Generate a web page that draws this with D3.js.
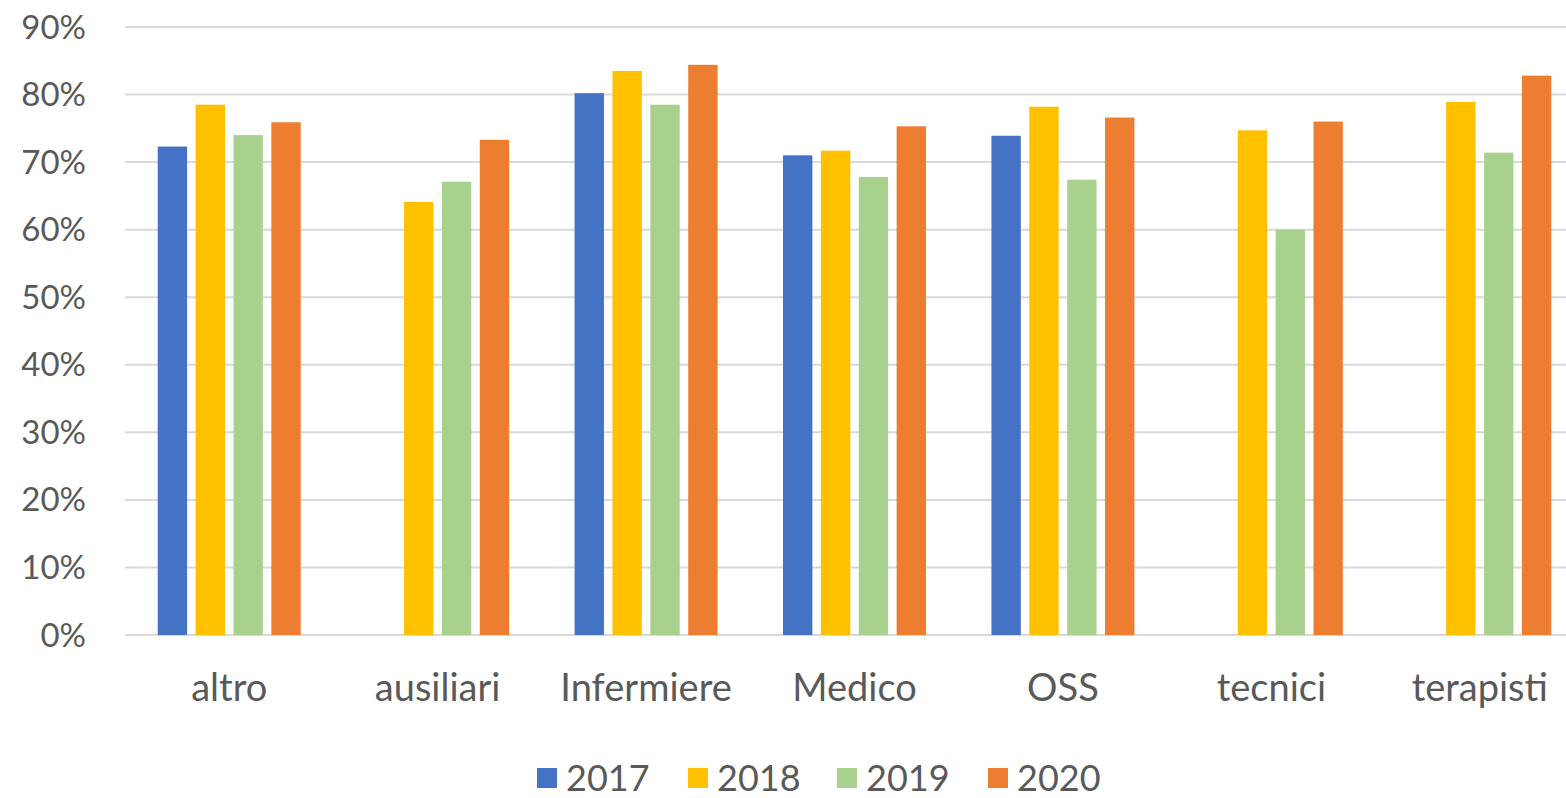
<!DOCTYPE html>
<html lang="it">
<head>
<meta charset="UTF-8">
<title>Grafico a barre</title>
<script src="https://d3js.org/d3.v7.min.js"></script>
<style>
  * { margin: 0; padding: 0; }
  body { background: #fff; }
</style>
</head>
<body>
<div id="chart"></div>
<script>
// categorie e serie
const categories = ["altro", "ausiliari", "Infermiere", "Medico", "OSS", "tecnici", "terapisti"];
const years = ["2017", "2018", "2019", "2020"];
const colors = ["#4472C4", "#FFC000", "#A9D18E", "#ED7D31"];
// valori per anno (null = nessun dato)
const v2017 = [0.723, null, 0.802, 0.710, 0.739, null, null];
const v2018 = [0.785, 0.641, 0.835, 0.717, 0.782, 0.747, 0.789];
const v2019 = [0.740, 0.671, 0.785, 0.678, 0.674, 0.600, 0.714];
const v2020 = [0.759, 0.733, 0.844, 0.753, 0.766, 0.760, 0.828];
const yTicks = [0, 0.1, 0.2, 0.3, 0.4, 0.5, 0.6, 0.7, 0.8, 0.9];

const series = [v2017, v2018, v2019, v2020];
const data = categories.map((c, i) => ({
  cat: c,
  values: years.map((y, k) => ({ year: y, value: series[k][i], k }))
}));

const width = 1566, height = 798;
// l'area del grafico continua oltre il bordo destro
const plotLeft = 125, plotRight = 1584;
const plotTop = 27, plotBottom = 635;
const font = "Lato, 'Open Sans', sans-serif";
const textColor = "#595959";

const svg = d3.select("#chart").append("svg")
  .attr("width", width)
  .attr("height", height)
  .attr("font-family", font);

const x0 = d3.scaleBand()
  .domain(categories)
  .range([plotLeft, plotRight])
  .paddingInner(0.314)
  .paddingOuter(0.157);

const x1 = d3.scaleBand()
  .domain(years)
  .range([0, x0.bandwidth()])
  .paddingInner(0.225);

const y = d3.scaleLinear()
  .domain([0, 0.9])
  .range([plotBottom, plotTop]);

// griglia
svg.append("g")
  .selectAll("line")
  .data(yTicks)
  .join("line")
  .attr("x1", plotLeft)
  .attr("x2", width)
  .attr("y1", d => y(d))
  .attr("y2", d => y(d))
  .attr("stroke", "#d9d9d9")
  .attr("stroke-width", 2);

// etichette asse y
svg.append("g")
  .selectAll("text")
  .data(yTicks)
  .join("text")
  .attr("x", 86)
  .attr("y", d => y(d))
  .attr("dy", "0.35em")
  .attr("text-anchor", "end")
  .attr("font-size", 33)
  .attr("fill", textColor)
  .text(d3.format(".0%"));

// barre
const groups = svg.append("g")
  .selectAll("g")
  .data(data)
  .join("g")
  .attr("transform", d => `translate(${x0(d.cat)},0)`);

groups.selectAll("rect")
  .data(d => d.values.filter(v => v.value != null))
  .join("rect")
  .attr("x", d => x1(d.year))
  .attr("width", x1.bandwidth())
  .attr("y", d => y(d.value))
  .attr("height", d => y(0) - y(d.value))
  .attr("fill", d => colors[d.k]);

// etichette categorie
svg.append("g")
  .selectAll("text")
  .data(categories)
  .join("text")
  .attr("x", d => x0(d) + x0.bandwidth() / 2)
  .attr("y", 701)
  .attr("text-anchor", "middle")
  .attr("font-size", 38)
  .attr("fill", textColor)
  .text(d => d);

// legenda
const legendX = [537, 688, 837, 988];
const legend = svg.append("g")
  .selectAll("g")
  .data(years)
  .join("g")
  .attr("transform", (d, i) => `translate(${legendX[i]},768)`);

legend.append("rect")
  .attr("width", 20)
  .attr("height", 20)
  .attr("fill", (d, i) => colors[i]);

legend.append("text")
  .attr("x", 29)
  .attr("y", 10)
  .attr("dy", "0.36em")
  .attr("font-size", 36)
  .attr("fill", textColor)
  .text(d => d);
</script>
</body>
</html>
